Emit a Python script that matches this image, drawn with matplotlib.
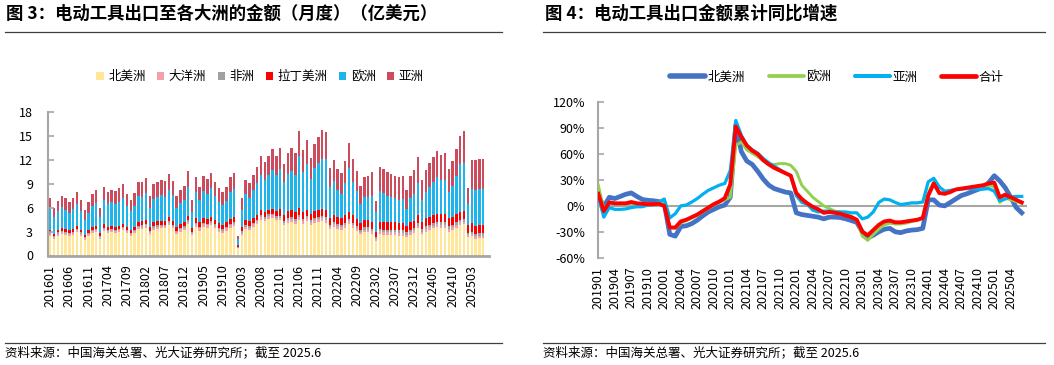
import numpy as np
import matplotlib.pyplot as plt
import pandas as pd
from matplotlib.patches import Patch
from matplotlib.lines import Line2D

plt.rcParams['font.family'] = ['Noto Sans CJK SC', 'DejaVu Sans']

# ---------------- 图3 数据：各大洲月度出口金额（亿美元），201601-202506 ----------------
months_bar = [p.strftime('%Y%m') for p in pd.period_range('2016-01', '2025-06', freq='M')]

na = [2.5, 2.1, 2.5, 2.7, 2.6, 2.4, 2.6, 2.9, 2.5, 2.0, 2.4, 2.8,
      2.9, 2.1, 3.1, 2.8, 2.9, 2.8, 2.9, 3.2, 2.8, 2.4, 2.8, 3.3,
      3.3, 3.5, 2.7, 3.2, 3.3, 3.4, 3.4, 3.8, 3.4, 2.7, 3.0, 3.2,
      3.9, 2.6, 3.6, 3.1, 3.6, 3.5, 3.8, 3.4, 3.0, 2.8, 3.1, 3.5,
      3.7, 0.9, 2.6, 3.3, 3.2, 3.6, 4.0, 4.5, 4.3, 4.6, 4.7, 4.4,
      4.4, 3.8, 4.1, 4.2, 4.0, 4.4, 4.0, 4.3, 3.8, 4.1, 4.2, 4.3,
      4.1, 3.3, 3.6, 3.3, 3.2, 3.5, 3.9, 3.5, 3.1, 2.7, 2.9, 2.9,
      2.7, 1.8, 2.7, 2.6, 2.6, 2.6, 2.6, 2.5, 2.5, 2.3, 2.6, 2.8,
      3.4, 2.7, 3.0, 3.2, 3.4, 3.6, 3.5, 3.5, 3.0, 3.2, 3.5, 3.8,
      3.9, 2.3, 2.4, 2.1, 2.2, 2.2]
oc = [0.25, 0.2, 0.25, 0.25, 0.25, 0.25, 0.25, 0.25, 0.25, 0.2, 0.25, 0.25,
      0.25, 0.2, 0.25, 0.25, 0.25, 0.25, 0.25, 0.25, 0.25, 0.25, 0.25, 0.3,
      0.3, 0.3, 0.25, 0.3, 0.3, 0.3, 0.3, 0.3, 0.3, 0.25, 0.3, 0.3,
      0.3, 0.25, 0.3, 0.3, 0.3, 0.3, 0.3, 0.3, 0.3, 0.3, 0.3, 0.3,
      0.3, 0.1, 0.25, 0.3, 0.3, 0.3, 0.3, 0.35, 0.3, 0.35, 0.35, 0.35,
      0.35, 0.3, 0.35, 0.35, 0.35, 0.4, 0.35, 0.35, 0.35, 0.35, 0.35, 0.4,
      0.4, 0.3, 0.35, 0.35, 0.35, 0.35, 0.4, 0.35, 0.35, 0.3, 0.35, 0.35,
      0.35, 0.3, 0.35, 0.35, 0.35, 0.35, 0.35, 0.35, 0.35, 0.3, 0.35, 0.35,
      0.35, 0.3, 0.35, 0.35, 0.35, 0.35, 0.35, 0.35, 0.35, 0.35, 0.35, 0.4,
      0.35, 0.25, 0.3, 0.3, 0.3, 0.3]
af = [0.15, 0.12, 0.15, 0.15, 0.15, 0.15, 0.15, 0.15, 0.15, 0.12, 0.15, 0.15,
      0.15, 0.12, 0.15, 0.15, 0.15, 0.15, 0.15, 0.15, 0.15, 0.15, 0.15, 0.15,
      0.18, 0.18, 0.15, 0.18, 0.18, 0.18, 0.18, 0.2, 0.18, 0.15, 0.18, 0.18,
      0.2, 0.15, 0.2, 0.2, 0.2, 0.2, 0.2, 0.2, 0.2, 0.2, 0.2, 0.2,
      0.2, 0.1, 0.2, 0.2, 0.2, 0.2, 0.2, 0.2, 0.2, 0.2, 0.2, 0.2,
      0.25, 0.2, 0.25, 0.25, 0.25, 0.25, 0.25, 0.25, 0.25, 0.25, 0.25, 0.25,
      0.3, 0.25, 0.25, 0.28, 0.28, 0.28, 0.3, 0.28, 0.28, 0.25, 0.28, 0.28,
      0.3, 0.25, 0.3, 0.3, 0.3, 0.3, 0.3, 0.3, 0.3, 0.28, 0.3, 0.3,
      0.3, 0.28, 0.3, 0.3, 0.3, 0.3, 0.3, 0.3, 0.3, 0.3, 0.3, 0.3,
      0.3, 0.25, 0.3, 0.3, 0.3, 0.3]
la = [0.35, 0.3, 0.35, 0.35, 0.35, 0.35, 0.35, 0.35, 0.35, 0.3, 0.35, 0.35,
      0.4, 0.35, 0.4, 0.4, 0.4, 0.4, 0.4, 0.4, 0.4, 0.4, 0.4, 0.4,
      0.5, 0.5, 0.45, 0.5, 0.5, 0.5, 0.5, 0.55, 0.5, 0.45, 0.5, 0.5,
      0.55, 0.5, 0.55, 0.55, 0.55, 0.55, 0.55, 0.55, 0.55, 0.55, 0.55, 0.55,
      0.6, 0.2, 0.55, 0.6, 0.6, 0.6, 0.6, 0.6, 0.6, 0.6, 0.6, 0.6,
      0.85, 0.8, 0.85, 0.85, 0.85, 0.9, 0.85, 0.85, 0.85, 0.85, 0.85, 0.85,
      0.9, 0.85, 0.9, 0.9, 0.9, 0.9, 0.9, 0.9, 0.9, 0.85, 0.9, 0.9,
      0.9, 0.65, 0.9, 0.9, 0.9, 0.9, 0.9, 0.9, 0.9, 0.85, 0.9, 0.9,
      1.0, 0.9, 1.0, 1.0, 1.0, 1.0, 1.0, 1.0, 1.0, 1.0, 1.0, 1.0,
      1.05, 1.0, 1.05, 1.05, 1.05, 1.05]
eu = [2.6, 2.15, 2.3, 2.6, 2.4, 2.2, 2.5, 2.85, 2.3, 1.85, 2.2, 2.6,
      2.9, 2.0, 3.1, 2.9, 2.95, 2.9, 3.0, 3.25, 2.65, 2.35, 2.65, 3.3,
      3.1, 3.35, 2.35, 2.95, 3.1, 3.15, 3.0, 3.35, 3.15, 2.4, 2.65, 2.8,
      3.6, 2.0, 3.35, 2.85, 3.45, 3.2, 3.55, 3.0, 2.65, 2.45, 2.7, 3.35,
      3.5, 0.8, 2.15, 3.25, 2.95, 3.45, 4.0, 4.45, 4.1, 4.35, 4.9, 4.55,
      4.95, 4.1, 4.7, 4.95, 4.65, 6.45, 4.95, 5.75, 4.3, 5.4, 5.95, 6.25,
      6.4, 3.9, 4.2, 3.4, 3.0, 4.0, 5.5, 4.2, 3.4, 2.3, 2.9, 2.95,
      3.2, 2.45, 3.8, 3.65, 3.35, 3.15, 3.05, 2.95, 3.0, 2.15, 3.0, 3.35,
      4.05, 2.8, 3.25, 3.7, 4.1, 4.55, 4.25, 4.35, 3.35, 3.9, 4.75, 6.0,
      5.95, 2.7, 4.25, 4.45, 4.5, 4.45]
asia = [1.4, 1.1, 1.3, 1.4, 1.4, 1.3, 1.4, 1.5, 1.4, 1.2, 1.4, 1.5,
        1.6, 1.2, 1.6, 1.5, 1.6, 1.6, 1.7, 1.7, 1.5, 1.4, 1.6, 1.8,
        1.8, 1.9, 1.5, 1.8, 1.8, 1.9, 1.9, 2.0, 1.8, 1.5, 1.6, 1.7,
        2.0, 1.4, 1.8, 1.6, 1.9, 1.8, 1.9, 1.8, 1.7, 1.6, 1.7, 1.9,
        2.0, 0.4, 1.5, 1.8, 1.8, 1.9, 2.0, 2.3, 2.2, 2.4, 2.6, 2.4,
        2.6, 2.3, 2.6, 2.8, 2.7, 3.2, 2.8, 3.0, 2.6, 3.0, 3.2, 3.6,
        3.3, 2.4, 2.7, 2.6, 2.6, 2.8, 3.1, 2.8, 2.6, 2.3, 2.5, 2.6,
        3.0, 1.4, 3.0, 3.0, 2.9, 2.9, 2.8, 2.8, 2.9, 2.3, 2.8, 3.0,
        3.2, 2.5, 2.8, 3.0, 3.2, 3.3, 3.2, 3.3, 2.8, 3.1, 3.4, 3.5,
        4.0, 2.0, 3.7, 3.8, 3.7, 3.75]

bar_names = ['北美洲', '大洋洲', '非洲', '拉丁美洲', '欧洲', '亚洲']
bar_colors = ['#FFE699', '#F3A0AC', '#A0A0A0', '#FF0000', '#1FB5EC', '#CC4C5E']

# ---------------- 图4 数据：累计同比增速（%），201901-202506 ----------------
months_yoy = [p.strftime('%Y%m') for p in pd.period_range('2019-01', '2025-06', freq='M')]

yoy_na = [12, -1, 10, 8.5, 11, 13.5, 15, 11, 7.5, 6.5, 6, 5,
          3, -33, -35, -24, -23, -20.5, -16.5, -11.5, -7, -4, -1, 1,
          10, 94, 63, 52, 48, 40, 31, 24, 20, 18, 16, 15,
          -8, -10, -11, -12, -13, -15, -13, -13, -13.5, -15, -17, -19,
          -30, -37, -34, -30, -27, -26, -30, -31, -29, -28, -27.5, -26,
          7, 7, 1, 0, 4, 8, 12, 14, 16.5, 19, 21, 27,
          35, 29, 21, 10, -2, -8]
yoy_eu = [24, -4, 4, 3, 2, 2, 3, 2, 2, 2, 2, 3,
          3, -25, -26, -20, -17, -14, -11, -7, -3, 1, 4, 7,
          10, 70, 74, 65, 61, 57, 52, 48, 48, 49, 49, 47,
          40, 24, 17, 10, 5, 0, -3, -6, -7, -9, -12, -16,
          -35, -40, -33, -27, -22, -20, -21, -21, -20, -18, -17, -14,
          15, 28, 14, 15, 17, 19, 20, 21, 21, 22, 23, 24,
          22, 4, 9, 7, 5, 3]
yoy_as = [11, -13, -2, -4, -4, -3.5, -2, -1, -1, 1, 1.5, 4.5,
          8, -14, -9, 0, 1, 4.5, 8.5, 13.5, 18, 21, 24, 26,
          41, 99, 82, 70, 65, 61, 55, 50, 46, 42, 38, 35,
          12, 4, 2, -5, -7, -6, -6, -7, -7, -7, -8, -8,
          -15, -13, -7, 4, 8, 7, 4, 1.5, 2.5, 3.5, 3.5, 4.5,
          28, 32, 22, 17, 18, 19, 19.5, 20, 20, 19.5, 19.5, 20,
          17, 6, 8, 10.5, 11, 11]
yoy_total = [14, -6, 4, 3, 3, 3, 4.5, 3, 2.5, 2, 2, 2.5,
             0, -25, -25, -18, -16, -13, -10, -6, -2, 2, 5, 9,
             25, 92, 80, 70, 64, 60, 53, 48, 44, 41, 38, 35,
             15, 8, 3, -1, -4, -8, -7, -8, -9, -11, -13, -16,
             -30, -34, -28, -22, -18, -17, -19, -19, -18, -17, -16, -14,
             12, 26, 15, 14, 16, 19, 20, 21, 22, 23, 24, 26,
             27, 10, 13, 10, 7, 4]

W, H = 1054, 365
GRAY = '#A6A6A6'
fig = plt.figure(figsize=(W / 100, H / 100), dpi=100)


def fx(px):
    return px / W


def fy(py):
    return 1 - py / H


# ---------------- 左图：堆积柱状图 ----------------
ax1 = fig.add_axes([fx(48.3), fy(255.5), fx(440.7), 143.8 / H])
x = np.arange(len(months_bar))
bottom = np.zeros(len(x))
for vals, c in zip([na, oc, af, la, eu, asia], bar_colors):
    vals = np.array(vals)
    ax1.bar(x, vals, 0.62, bottom=bottom, color=c, linewidth=0)
    bottom += vals

ax1.set_xlim(-0.5, 114.5)
ax1.set_ylim(0, 18)
ax1.set_yticks(range(0, 19, 3))
ax1.set_xticks(x[::5])
ax1.set_xticklabels(months_bar[::5], rotation=90)
for s in ['top', 'right']:
    ax1.spines[s].set_visible(False)
ax1.spines['left'].set_color(GRAY)
ax1.spines['left'].set_linewidth(1.5)
ax1.spines['bottom'].set_color(GRAY)
ax1.spines['bottom'].set_linewidth(2)
ax1.tick_params(axis='y', direction='in', length=4, width=1.2, color=GRAY, pad=11, labelsize=9)
ax1.tick_params(axis='x', length=0, pad=6.5, labelsize=9)

handles = [Patch(facecolor=c, edgecolor='none') for c in bar_colors]
fig.legend(handles, bar_names, loc='center', bbox_to_anchor=(fx(260), fy(76.7)), ncol=6,
           frameon=False, handlelength=0.6, handleheight=0.6, handletextpad=0.35,
           columnspacing=0.9, fontsize=9, borderaxespad=0, borderpad=0)

# ---------------- 右图：累计同比折线 ----------------
ax2 = fig.add_axes([fx(598.3), fy(257.7), fx(428.4), 155.4 / H])
m = np.arange(len(months_yoy))
ax2.axhline(0, color=GRAY, lw=1.5, zorder=1)
line_specs = [('北美洲', yoy_na, '#4472C4', 3.4),
              ('欧洲', yoy_eu, '#92D050', 2.1),
              ('亚洲', yoy_as, '#00B0F0', 2.3),
              ('合计', yoy_total, '#FF0000', 2.8)]
for name, vals, c, lw in line_specs:
    ax2.plot(m, vals, color=c, lw=lw, label=name, zorder=3, solid_joinstyle='round')

ax2.set_xlim(0, 77.9)
ax2.set_ylim(-60, 120)
ax2.set_yticks(range(-60, 121, 30))
ax2.set_yticklabels([f'{v}%' for v in range(-60, 121, 30)])
ax2.set_xticks(m[::3])
ax2.set_xticklabels(months_yoy[::3], rotation=90)
for s in ['top', 'right', 'bottom']:
    ax2.spines[s].set_visible(False)
ax2.spines['left'].set_color(GRAY)
ax2.spines['left'].set_linewidth(1.5)
ax2.tick_params(axis='y', direction='in', length=4, width=1.2, color=GRAY, pad=9.5, labelsize=9)
ax2.tick_params(axis='x', length=0, pad=6.5, labelsize=9)

line_handles = [Line2D([0], [0], color=c, lw=lw + 0.6, solid_capstyle='round') for _, _, c, lw in line_specs]
fig.legend(line_handles, [s[0] for s in line_specs], loc='center', bbox_to_anchor=(fx(837), fy(77)),
           ncol=4, frameon=False, handlelength=2.8, handletextpad=0.2, columnspacing=1.9,
           fontsize=9, borderaxespad=0, borderpad=0)

# ---------------- 标题与脚注 ----------------
fig.text(fx(6), fy(14), '图 3：电动工具出口至各大洲的金额（月度）（亿美元）', fontsize=12.5,
         fontweight='bold', va='center', ha='left')
fig.text(fx(545), fy(14), '图 4：电动工具出口金额累计同比增速', fontsize=12.5,
         fontweight='bold', va='center', ha='left')
src = '资料来源：中国海关总署、光大证券研究所；截至 2025.6'
fig.text(fx(5), fy(352.7), src, fontsize=9, va='center', ha='left')
fig.text(fx(543), fy(352.7), src, fontsize=9, va='center', ha='left')

for x0, x1 in [(5, 502), (543, 1045)]:
    for yy in [31.7, 343.3]:
        fig.add_artist(Line2D([fx(x0), fx(x1)], [fy(yy), fy(yy)], color='#404040', lw=0.9))

fig.savefig('out.png', dpi=100)
